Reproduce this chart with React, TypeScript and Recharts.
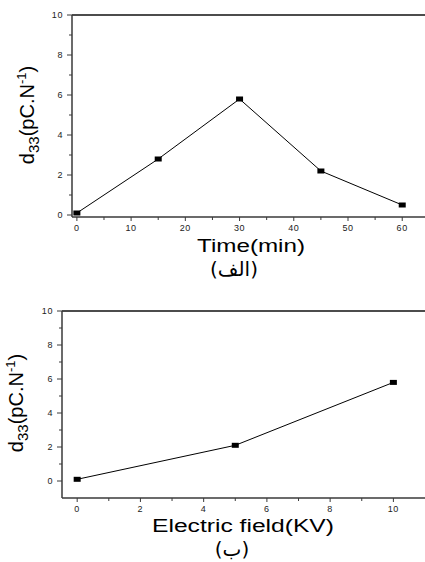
import { LineChart, Line, XAxis, YAxis, ReferenceLine } from 'recharts'

// chart (الف): d33 vs poling time
const timeMin = [0, 15, 30, 45, 60]
const d33Time = [0.1, 2.8, 5.8, 2.2, 0.5]
const timeTicks = [0, 5, 10, 15, 20, 25, 30, 35, 40, 45, 50, 55, 60]
const timeLabels = [0, 10, 20, 30, 40, 50, 60]

// chart (ب): d33 vs electric field
const fieldKV = [0, 5, 10]
const d33Field = [0.1, 2.1, 5.8]
const fieldTicks = [0, 1, 2, 3, 4, 5, 6, 7, 8, 9, 10]
const fieldLabels = [0, 2, 4, 6, 8, 10]

const d33Ticks = [0, 1, 2, 3, 4, 5, 6, 7, 8, 9, 10]
const d33Labels = [0, 2, 4, 6, 8, 10]

const FONT = '"Liberation Sans", Arial, sans-serif'
const AXIS = '#3a3a3a'

const timeData = timeMin.map((t, i) => ({ x: t, y: d33Time[i] }))
const fieldData = fieldKV.map((f, i) => ({ x: f, y: d33Field[i] }))

const SquareDot = (props: any) => {
  const { cx, cy } = props
  if (cx == null || cy == null) return null
  return <rect x={cx - 3.5} y={cy - 2.5} width={7} height={5} fill="#000" />
}

const makeXTick = (labels: number[]) => (props: any) => {
  const { x, y, payload } = props
  const major = labels.includes(payload.value)
  return (
    <g>
      <line x1={x} y1={y} x2={x} y2={y + (major ? 4 : 3)} stroke={AXIS} strokeWidth={1} />
      {major && (
        <text x={x} y={y + 14} textAnchor="middle" fontSize={9} fill="#222"
          fontFamily={FONT} letterSpacing={0.6}>
          {payload.value}
        </text>
      )}
    </g>
  )
}

const makeYTick = (labels: number[]) => (props: any) => {
  const { x, y, payload } = props
  const major = labels.includes(payload.value)
  return (
    <g>
      <line x1={x - (major ? 5 : 3)} y1={y} x2={x} y2={y} stroke={AXIS} strokeWidth={1} />
      {major && (
        <text x={x - 9} y={y + 3} textAnchor="end" fontSize={9} fill="#222"
          fontFamily={FONT} letterSpacing={0.6}>
          {payload.value}
        </text>
      )}
    </g>
  )
}

const YTitle = ({ x, y }: { x: number; y: number }) => (
  <text x={x} y={y} transform={`rotate(-90, ${x}, ${y})`} textAnchor="middle"
    fontSize={20} fontFamily={FONT} fill="#000">
    d<tspan fontSize={15} dy={5}>33</tspan>
    <tspan dy={-5}>(pC.N</tspan>
    <tspan fontSize={13} dy={-8}>-1</tspan>
    <tspan dy={8}>)</tspan>
  </text>
)

export default function App() {
  return (
    <div style={{ position: 'absolute', left: 0, top: 0, width: 425, height: 562, background: '#fff' }}>
      <div style={{ position: 'relative', width: 425, height: 281 }}>
        <LineChart width={425} height={281} data={timeData}
          margin={{ top: 15, right: 0, bottom: 0, left: 0 }}>
          <XAxis type="number" dataKey="x" domain={[-0.9, 64.2]} ticks={timeTicks}
            interval={0} tickSize={0} tickMargin={0} tickLine={false}
            tick={makeXTick(timeLabels)} height={64} allowDataOverflow
            axisLine={{ stroke: AXIS, strokeWidth: 1.5 }} />
          <YAxis type="number" dataKey="y" domain={[-0.1, 10]} ticks={d33Ticks}
            interval={0} tickSize={0} tickMargin={0} tickLine={false}
            tick={makeYTick(d33Labels)} width={72} allowDataOverflow
            axisLine={{ stroke: AXIS, strokeWidth: 1.5 }} />
          <ReferenceLine y={10} stroke="#111" strokeWidth={1.5} ifOverflow="visible" />
          <Line type="linear" dataKey="y" stroke="#000" strokeWidth={1}
            dot={<SquareDot />} activeDot={false} isAnimationActive={false} />
        </LineChart>
        <svg width={425} height={281} style={{ position: 'absolute', left: 0, top: 0, pointerEvents: 'none' }}>
          <YTitle x={34} y={115} />
          <text x={251} y={252} textAnchor="middle" fontSize={18} fontFamily={FONT}
            textLength={108} lengthAdjust="spacingAndGlyphs">Time(min)</text>
          <text x={234} y={276} textAnchor="middle" fontSize={20} fontFamily='"DejaVu Sans", sans-serif'>(الف)</text>
        </svg>
      </div>
      <div style={{ position: 'relative', width: 425, height: 281 }}>
        <LineChart width={425} height={281} data={fieldData}
          margin={{ top: 30, right: 0, bottom: 0, left: 0 }}>
          <XAxis type="number" dataKey="x" domain={[-0.48, 11]} ticks={fieldTicks}
            interval={0} tickSize={0} tickMargin={0} tickLine={false}
            tick={makeXTick(fieldLabels)} height={64} allowDataOverflow
            axisLine={{ stroke: AXIS, strokeWidth: 1.5 }} />
          <YAxis type="number" dataKey="y" domain={[-1, 10]} ticks={d33Ticks}
            interval={0} tickSize={0} tickMargin={0} tickLine={false}
            tick={makeYTick(d33Labels)} width={62} allowDataOverflow
            axisLine={{ stroke: AXIS, strokeWidth: 1.5 }} />
          <ReferenceLine y={10} stroke="#111" strokeWidth={1.5} ifOverflow="visible" />
          <Line type="linear" dataKey="y" stroke="#000" strokeWidth={1}
            dot={<SquareDot />} activeDot={false} isAnimationActive={false} />
        </LineChart>
        <svg width={425} height={281} style={{ position: 'absolute', left: 0, top: 0, pointerEvents: 'none' }}>
          <YTitle x={23} y={403 - 281} />
          <text x={243} y={532 - 281} textAnchor="middle" fontSize={18} fontFamily={FONT}
            textLength={182} lengthAdjust="spacingAndGlyphs">Electric field(KV)</text>
          <text x={232} y={556 - 281} textAnchor="middle" fontSize={20} fontFamily='"DejaVu Sans", sans-serif'>(ب)</text>
        </svg>
      </div>
    </div>
  )
}
